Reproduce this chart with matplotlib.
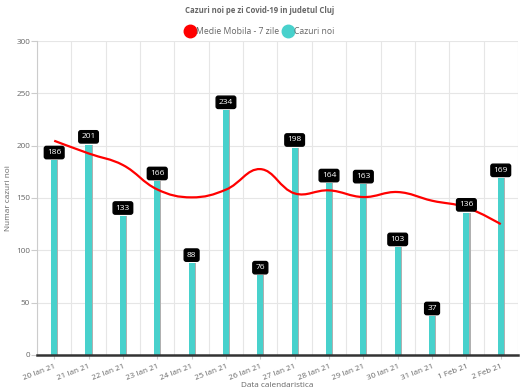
import numpy as np
import matplotlib.pyplot as plt
from matplotlib.path import Path
from matplotlib.patches import PathPatch
from matplotlib.lines import Line2D

plt.rcParams['font.family'] = ['Open Sans', 'DejaVu Sans']

# datele
zile = ['20 Ian 21', '21 Ian 21', '22 Ian 21', '23 Ian 21', '24 Ian 21', '25 Ian 21', '26 Ian 21',
        '27 Ian 21', '28 Ian 21', '29 Ian 21', '30 Ian 21', '31 Ian 21', '1 Feb 21', '2 Feb 21']
cazuri = [186, 201, 133, 166, 88, 234, 76, 198, 164, 163, 103, 37, 136, 169]
medie = [204.7, 192.6, 181.5, 158.2, 150.6, 158.0, 177.6, 154.4, 157.3, 150.9, 155.7, 147.4, 141.0, 125.0]

gri = '#666666'
turcoaz = '#48d1cc'

fig = plt.figure(figsize=(5.2, 3.92), dpi=100)
ax = fig.add_axes([0.0712, 0.0944, 0.9248, 0.801])

x = np.arange(len(zile))
ax.set_xlim(-0.5, len(zile) - 0.5)
ax.set_ylim(0, 300)

# grila
for xe in np.arange(-0.5, len(zile), 1.0):
    ax.axvline(xe, color='#e6e6e6', lw=0.8, zorder=0)
for yv in range(50, 301, 50):
    ax.axhline(yv, color='#e6e6e6', lw=0.8, zorder=0)

# bare cu umbra
ax.bar(x + 0.03, cazuri, width=0.18, color='#b0b0b0', zorder=2)
ax.bar(x, cazuri, width=0.18, color=turcoaz, zorder=3)

# linia medie mobila (curba ca in chart.js, tensiune 0.4)
pts = ax.transData.transform(np.column_stack([x, medie]))
n = len(pts)
t = 0.4
prev_cp = pts.copy()
next_cp = pts.copy()
for i in range(1, n - 1):
    p0, p1, p2 = pts[i - 1], pts[i], pts[i + 1]
    d01 = np.hypot(*(p1 - p0))
    d12 = np.hypot(*(p2 - p1))
    s01 = d01 / (d01 + d12)
    s12 = d12 / (d01 + d12)
    prev_cp[i] = p1 - t * s01 * (p2 - p0)
    next_cp[i] = p1 + t * s12 * (p2 - p0)
verts = [pts[0]]
codes = [Path.MOVETO]
for i in range(n - 1):
    verts += [next_cp[i], prev_cp[i + 1], pts[i + 1]]
    codes += [Path.CURVE4] * 3
verts = ax.transData.inverted().transform(np.array(verts))
ax.add_patch(PathPatch(Path(verts, codes), fill=False, edgecolor='red', lw=1.6, zorder=5))

# etichete valori
for xi, v in zip(x, cazuri):
    ax.annotate(str(v), (xi, v), xytext=(0, 5.6), textcoords='offset points',
                ha='center', va='center', color='white', fontsize=6.0, zorder=6,
                bbox=dict(boxstyle='round,pad=0.32,rounding_size=0.25', fc='black', ec='black'))

# axe
for s in ['top', 'right']:
    ax.spines[s].set_visible(False)
ax.spines['left'].set_color('#cccccc')
ax.spines['left'].set_linewidth(0.8)
ax.spines['bottom'].set_color('#333333')
ax.spines['bottom'].set_linewidth(1.8)
ax.spines['bottom'].set_zorder(7)

ax.set_yticks(range(0, 301, 50))
ax.tick_params(axis='y', length=4, color='#cccccc', labelsize=5.9, labelcolor=gri, pad=1)
ax.set_xticks(x)
ax.set_xticklabels(zile, rotation=21, ha='right', rotation_mode='anchor')
ax.tick_params(axis='x', length=3, color='#cccccc', labelsize=5.8, labelcolor=gri, pad=3)

ax.set_ylabel('Numar cazuri noi', fontsize=5.9, color=gri, labelpad=3)
ax.set_xlabel('Data calendaristica', fontsize=5.9, color=gri)
ax.xaxis.set_label_coords(0.5, -0.085)

fig.text(0.5, 0.972, 'Cazuri noi pe zi Covid-19 in judetul Cluj', ha='center', va='center',
         fontsize=5.6, fontweight='bold', color=gri)

handles = [Line2D([], [], marker='o', color='red', ls='None', markersize=9),
           Line2D([], [], marker='o', color=turcoaz, ls='None', markersize=9)]
fig.legend(handles, ['Medie Mobila - 7 zile', 'Cazuri noi'], loc='center', bbox_to_anchor=(0.5, 0.92),
           ncol=2, frameon=False, fontsize=6.2, labelcolor=gri, handletextpad=0.2,
           columnspacing=0.5, handlelength=1.0)

fig.savefig('out.png', dpi=100)
